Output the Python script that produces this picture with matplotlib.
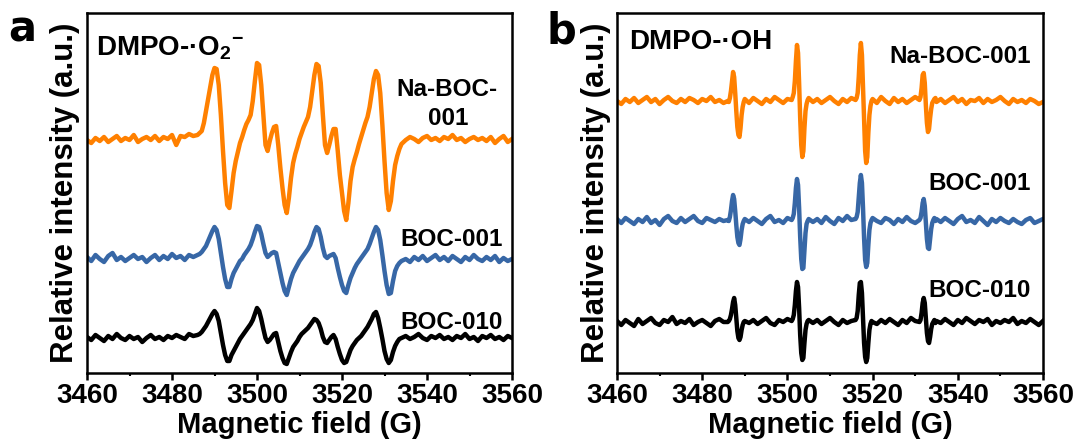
import matplotlib
matplotlib.use("Agg")
import matplotlib.pyplot as plt
from matplotlib.ticker import MultipleLocator

# ---------------- data ----------------
# intensity units: arbitrary, 0..360 over the plot height
field_a = [3460, 3461, 3462, 3463, 3464, 3465, 3466, 3467, 3468, 3469,
           3470, 3471, 3472, 3473, 3474, 3475, 3476, 3477, 3478, 3479,
           3480, 3481, 3482, 3483, 3484, 3485, 3486,
           3486.5, 3487, 3487.5, 3488, 3488.5, 3489, 3489.5, 3490, 3490.5, 3491,
           3491.5, 3492, 3492.5, 3493, 3493.5, 3494, 3494.5, 3495, 3495.5, 3496,
           3496.5, 3497, 3497.5, 3498, 3498.5, 3499, 3499.5, 3500, 3500.5, 3501,
           3501.5, 3502, 3502.5, 3503, 3503.5, 3504, 3504.5, 3505, 3505.5, 3506,
           3506.5, 3507, 3507.5, 3508, 3508.5, 3509, 3509.5, 3510, 3510.5, 3511,
           3511.5, 3512, 3512.5, 3513, 3513.5, 3514, 3514.5, 3515, 3515.5, 3516,
           3516.5, 3517, 3517.5, 3518, 3518.5, 3519, 3519.5, 3520, 3520.5, 3521,
           3521.5, 3522, 3522.5, 3523, 3523.5, 3524, 3524.5, 3525, 3525.5, 3526,
           3526.5, 3527, 3527.5, 3528, 3528.5, 3529, 3529.5, 3530, 3530.5, 3531,
           3531.5, 3532, 3532.5, 3533, 3533.5, 3534,
           3535, 3536, 3537, 3538, 3539, 3540, 3541, 3542, 3543, 3544,
           3545, 3546, 3547, 3548, 3549, 3550, 3551, 3552, 3553, 3554,
           3555, 3556, 3557, 3558, 3559, 3560]

a_na_boc_001 = [233, 230, 235, 232, 236, 231, 234, 237, 232, 235,
                233, 238, 231, 234, 236, 233, 237, 232, 236, 234,
                238, 228, 237, 236, 239, 237, 238,
                240, 242, 250, 262, 274, 286, 298, 305, 304, 288,
                258, 222, 190, 168, 165, 182, 200, 212, 221, 230,
                236, 243, 249, 253, 258, 272, 292, 310, 308, 288,
                258, 228, 222, 232, 240, 246, 247, 228, 205, 185,
                168, 160, 175, 195, 210, 219, 226, 234, 240, 246,
                251, 256, 266, 282, 298, 309, 307, 290, 258, 228,
                220, 228, 237, 244, 244, 222, 198, 180, 162, 153,
                170, 192, 206, 214, 221, 229, 236, 243, 250, 256,
                266, 280, 294, 302, 298, 280, 248, 212, 180, 163,
                172, 192, 208, 217, 224, 229,
                233, 236, 234, 231, 235, 237, 233, 235, 232, 236,
                234, 238, 233, 235, 231, 234, 236, 233, 235, 232,
                236, 230, 234, 237, 231, 234]

a_boc_001 = [116, 112, 118, 114, 111, 117, 120, 113, 116, 112,
             115, 118, 114, 116, 111, 115, 118, 113, 117, 114,
             119, 115, 117, 113, 118, 116, 118,
             119, 121, 124, 127, 132, 137, 142, 146, 143, 134,
             120, 106, 94, 86, 86, 94, 100, 104, 108, 112,
             114, 118, 121, 124, 128, 134, 141, 147, 146, 139,
             129, 120, 116, 118, 120, 121, 120, 110, 100, 90,
             82, 78, 86, 94, 100, 104, 108, 112, 115, 118,
             121, 124, 128, 134, 141, 146, 144, 136, 125, 117,
             115, 117, 118, 119, 115, 105, 96, 88, 82, 80,
             88, 95, 100, 105, 109, 112, 115, 118, 121, 124,
             129, 135, 141, 146, 143, 133, 118, 102, 88, 79,
             80, 92, 102, 107, 110, 112,
             114, 111, 116, 113, 117, 112, 115, 118, 113, 116,
             112, 117, 114, 111, 116, 113, 118, 114, 112, 116,
             113, 117, 111, 115, 112, 114]

a_boc_010 = [36, 33, 38, 35, 32, 37, 34, 39, 35, 33,
             37, 34, 36, 31, 35, 38, 34, 36, 33, 37,
             35, 38, 36, 34, 39, 37, 38,
             39, 41, 44, 47, 51, 55, 59, 62, 59, 52,
             40, 28, 18, 12, 12, 18, 22, 26, 30, 34,
             37, 40, 43, 46, 49, 53, 59, 65, 62, 54,
             44, 35, 31, 33, 36, 39, 40, 31, 22, 15,
             10, 9, 15, 21, 26, 29, 32, 36, 39, 41,
             43, 45, 48, 51, 54, 53, 50, 44, 36, 31,
             30, 33, 36, 38, 34, 26, 19, 13, 10, 11,
             17, 23, 27, 30, 33, 35, 37, 40, 43, 46,
             50, 54, 59, 61, 55, 45, 34, 22, 14, 10,
             13, 21, 27, 31, 34, 35,
             37, 34, 36, 39, 35, 33, 37, 35, 38, 34,
             36, 33, 37, 35, 39, 34, 36, 32, 37, 35,
             38, 34, 36, 33, 37, 35]

field_b = [3460, 3461, 3462, 3463, 3464, 3465, 3466, 3467, 3468, 3469,
           3470, 3471, 3472, 3473, 3474, 3475, 3476, 3477, 3478, 3479,
           3480, 3481, 3482, 3483, 3484, 3485,
           3486, 3486.25, 3486.5, 3486.75, 3487, 3487.25, 3487.5, 3487.75,
           3488, 3488.25, 3488.5, 3488.75, 3489, 3489.25, 3489.5, 3489.75, 3490,
           3491, 3492, 3493, 3494, 3495, 3496, 3497, 3498, 3499, 3500,
           3501, 3501.25, 3501.5, 3501.75, 3502, 3502.25, 3502.5, 3502.75,
           3503, 3503.25, 3503.5, 3503.75, 3504, 3504.25, 3504.5, 3504.75, 3505,
           3506, 3507, 3508, 3509, 3510, 3511, 3512, 3513, 3514, 3515,
           3516, 3516.25, 3516.5, 3516.75, 3517, 3517.25, 3517.5, 3517.75,
           3518, 3518.25, 3518.5, 3518.75, 3519, 3519.25, 3519.5, 3519.75, 3520,
           3521, 3522, 3523, 3524, 3525, 3526, 3527, 3528, 3529, 3530,
           3531, 3531.25, 3531.5, 3531.75, 3532, 3532.25, 3532.5, 3532.75,
           3533, 3533.25, 3533.5, 3533.75, 3534, 3534.25, 3534.5, 3534.75, 3535,
           3536, 3537, 3538, 3539, 3540, 3541, 3542, 3543, 3544, 3545,
           3546, 3547, 3548, 3549, 3550, 3551, 3552, 3553, 3554, 3555,
           3556, 3557, 3558, 3559, 3560]

b_na_boc_001 = [272, 269, 274, 271, 275, 270, 273, 276, 271, 274,
                269, 273, 276, 272, 270, 274, 271, 275, 273, 270,
                274, 272, 276, 271, 273, 270,
                272, 271, 275, 282, 292, 301, 296, 280, 262, 246, 238, 236, 245, 258, 266, 271, 274,
                270, 275, 272, 269, 274, 271, 276, 273, 270, 274,
                273, 276, 280, 292, 312, 328, 320, 290, 255, 228, 216, 222, 245, 262, 269, 273, 275,
                271, 274, 270, 273, 276, 272, 269, 274, 271, 275,
                273, 275, 280, 296, 318, 330, 318, 285, 250, 222, 210, 216, 240, 258, 267, 272, 274,
                270, 276, 272, 269, 275, 271, 274, 270, 273, 276,
                273, 276, 285, 298, 300, 290, 268, 250, 241, 244, 255, 264, 270, 272, 274, 275, 271,
                274, 270, 273, 276, 271, 274, 269, 273, 272, 275,
                270, 274, 271, 273, 276, 272, 269, 274, 271, 273,
                270, 274, 272, 269, 271]

b_boc_001 = [154, 150, 155, 152, 149, 154, 151, 156, 150, 153,
             148, 154, 157, 152, 150, 155, 151, 154, 157, 152,
             150, 155, 153, 151, 154, 152,
             153, 152, 156, 163, 172, 178, 174, 162, 148, 136, 130, 128, 134, 143, 149, 152, 154,
             151, 155, 152, 149, 154, 157, 151, 153, 150, 155,
             153, 155, 159, 170, 185, 194, 188, 165, 136, 114, 104, 105, 122, 140, 149, 152, 154,
             151, 154, 150, 156, 152, 149, 155, 152, 157, 153,
             154, 156, 161, 175, 190, 198, 190, 165, 135, 113, 106, 110, 128, 143, 150, 153, 155,
             152, 150, 155, 153, 149, 154, 151, 156, 152, 150,
             153, 155, 161, 170, 174, 167, 150, 134, 125, 124, 134, 144, 150, 153, 155, 152, 154,
             151, 155, 152, 149, 154, 157, 151, 153, 150, 156,
             152, 148, 154, 151, 155, 152, 150, 154, 151, 149,
             153, 155, 150, 152, 154]

b_boc_010 = [52, 48, 53, 50, 47, 54, 49, 52, 55, 50,
             48, 53, 51, 56, 49, 52, 50, 54, 48, 51,
             53, 50, 47, 52, 54, 51,
             51, 52, 54, 58, 64, 71, 75, 68, 55, 42, 35, 33, 36, 43, 48, 51, 52,
             50, 53, 49, 52, 55, 50, 48, 53, 51, 54,
             52, 54, 58, 68, 82, 91, 86, 65, 38, 20, 13, 15, 30, 43, 49, 52, 53,
             50, 53, 49, 52, 55, 51, 48, 53, 50, 52,
             53, 55, 62, 78, 90, 91, 80, 55, 30, 16, 11, 15, 30, 43, 49, 52, 51,
             49, 53, 50, 54, 51, 48, 53, 50, 55, 52,
             51, 53, 60, 70, 75, 70, 55, 40, 32, 30, 36, 44, 49, 51, 53, 50, 52,
             50, 54, 51, 48, 53, 50, 55, 52, 49, 53,
             51, 54, 48, 52, 50, 53, 51, 55, 49, 52,
             50, 54, 51, 48, 52]

x_ticks = [3460, 3480, 3500, 3520, 3540, 3560]
series_names = ["Na-BOC-001", "BOC-001", "BOC-010"]
colors = ["#FF8000", "#3767A6", "#000000"]

# ---------------- figure ----------------
W, H = 1079, 441
plt.rcParams["font.family"] = ["Liberation Sans", "DejaVu Sans"]
plt.rcParams["font.weight"] = "bold"
plt.rcParams["mathtext.fontset"] = "custom"
plt.rcParams["mathtext.rm"] = "Liberation Sans:bold"
plt.rcParams["mathtext.it"] = "Liberation Sans:bold"
plt.rcParams["mathtext.bf"] = "Liberation Sans:bold"

fig = plt.figure(figsize=(W / 100, H / 100), dpi=100)


def rect(l, r, t, b):
    return [l / W, 1 - b / H, (r - l) / W, (b - t) / H]


def fx(px):
    return px / W


def fy(py):
    return 1 - py / H


axa = fig.add_axes(rect(87, 512, 13, 373))
axb = fig.add_axes(rect(617, 1043, 13, 373))

for ax, fld, ys in [(axa, field_a, [a_na_boc_001, a_boc_001, a_boc_010]),
                    (axb, field_b, [b_na_boc_001, b_boc_001, b_boc_010])]:
    for y, c in zip(ys, colors):
        ax.plot(fld, y, color=c, lw=3.2, solid_joinstyle="round")
    ax.set_xlim(3460, 3560)
    ax.set_ylim(0, 360)
    ax.set_yticks([])
    ax.set_xticks(x_ticks)
    ax.xaxis.set_minor_locator(MultipleLocator(10))
    ax.tick_params(axis="x", which="major", direction="out", length=5, width=1.8,
                   labelsize=20, pad=2)
    ax.tick_params(axis="x", which="minor", direction="out", length=2.5, width=1.5)
    for s in ax.spines.values():
        s.set_linewidth(1.8)

# panel letters
fig.text(fx(8), fy(41), "a", fontsize=30, fontweight="bold", family="DejaVu Sans",
         ha="left", va="baseline")
fig.text(fx(547), fy(43), "b", fontsize=30, fontweight="bold", family="DejaVu Sans",
         ha="left", va="baseline")

# axis labels
for base_x, left, right in [(73, 87, 512), (604, 617, 1043)]:
    fig.text(fx(base_x), fy(193), "Relative intensity (a.u.)", fontsize=22.5,
             fontweight="bold", rotation=90, rotation_mode="anchor",
             ha="center", va="baseline")
    fig.text(fx((left + right) / 2), fy(433), "Magnetic field (G)", fontsize=21,
             fontweight="bold", ha="center", va="baseline")

# annotations panel a
fig.text(fx(96), fy(55), "DMPO-·O$_{2}$$^{-}$", fontsize=20, fontweight="bold",
         ha="left", va="baseline")
fig.text(fx(447), fy(96), "Na-BOC-", fontsize=17.5, fontweight="bold",
         ha="center", va="baseline")
fig.text(fx(448), fy(125), "001", fontsize=17.5, fontweight="bold",
         ha="center", va="baseline")
fig.text(fx(452), fy(246), series_names[1], fontsize=17.5, fontweight="bold",
         ha="center", va="baseline")
fig.text(fx(452), fy(329), series_names[2], fontsize=17.5, fontweight="bold",
         ha="center", va="baseline")

# annotations panel b
fig.text(fx(629), fy(49), "DMPO-·OH", fontsize=20, fontweight="bold",
         ha="left", va="baseline")
fig.text(fx(960), fy(63), series_names[0], fontsize=17.5, fontweight="bold",
         ha="center", va="baseline")
fig.text(fx(980), fy(190), series_names[1], fontsize=17.5, fontweight="bold",
         ha="center", va="baseline")
fig.text(fx(980), fy(297), series_names[2], fontsize=17.5, fontweight="bold",
         ha="center", va="baseline")

fig.savefig("out.png", dpi=100)
